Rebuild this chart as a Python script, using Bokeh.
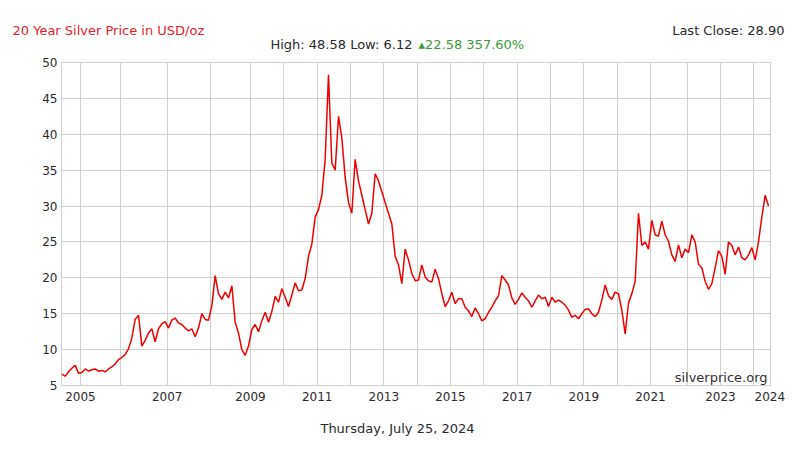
import numpy as np
from bokeh.plotting import figure
from bokeh.layouts import column
from bokeh.models import Range1d, FixedTicker, Label
from bokeh.embed import file_html
from bokeh.resources import INLINE

# Silver price samples (USD/oz), grouped by calendar year
y2004 = [6.6, 6.3, 6.9, 7.4, 7.8, 6.7]
y2005 = [6.8, 7.3, 7.0, 7.2, 7.3, 7.0, 7.1, 6.9, 7.3, 7.6, 8.0, 8.6]
y2006 = [8.9, 9.3, 10.1, 11.6, 14.2, 14.8, 10.5, 11.3, 12.3, 12.9, 11.1, 12.9, 13.6, 13.9]
y2007 = [13.0, 14.1, 14.4, 13.7, 13.5, 13.0, 12.6, 12.9, 11.8, 13.0, 15.0, 14.2, 14.1]
y2008 = [16.1, 20.3, 17.8, 17.0, 18.0, 17.2, 18.9, 13.8, 12.3, 10.0, 9.2, 10.5]
y2009 = [12.8, 13.5, 12.5, 14.0, 15.2, 13.8, 15.3, 17.4, 16.6, 18.5]
y2010 = [17.3, 16.0, 17.6, 19.3, 18.2, 18.3, 19.9, 23.0, 24.7, 28.5]
y2011 = [29.5, 31.5, 36.5, 48.3, 36.0, 35.0, 42.5, 39.5, 34.0, 30.5]
y2012 = [29.0, 36.5, 33.5, 31.5, 29.5, 27.5, 29.0, 34.5, 33.5, 32.0]
y2013 = [30.5, 29.0, 27.5, 23.0, 21.8, 19.2, 24.0, 22.5, 20.6, 19.6]
y2014 = [19.7, 21.8, 20.1, 19.6, 19.4, 21.2, 19.9, 17.8, 16.0, 16.8]
y2015 = [18.0, 16.4, 17.1, 17.1, 15.9, 15.4, 14.6, 15.8, 15.0, 14.0]
y2016 = [14.3, 15.2, 15.9, 16.8, 17.5, 20.3, 19.7, 19.0, 17.2, 16.3]
y2017 = [17.0, 17.9, 17.3, 16.8, 15.9, 16.8, 17.6, 17.1, 17.3, 16.0]
y2018 = [17.3, 16.6, 16.9, 16.6, 16.2, 15.5, 14.5, 14.8, 14.3, 15.0]
y2019 = [15.6, 15.7, 15.0, 14.6, 15.2, 16.9, 19.0, 17.5, 17.0, 18.0]
y2020 = [17.8, 15.5, 12.2, 16.5, 17.8, 19.5, 29.0, 24.5, 25.0, 24.0]
y2021 = [28.0, 26.0, 25.8, 27.9, 26.0, 25.1, 23.2, 22.3, 24.6, 22.8, 24.0]
y2022 = [23.5, 26.0, 25.0, 21.9, 21.4, 19.5, 18.4, 19.2, 21.4, 23.8]
y2023 = [23.0, 20.5, 25.0, 24.5, 23.2, 24.3, 22.8, 22.5, 23.2, 24.2]
y2024 = [22.5, 25.0, 28.5, 31.5, 30.0]

years = list(range(2004, 2025))
by_year = [y2004, y2005, y2006, y2007, y2008, y2009, y2010, y2011, y2012, y2013,
           y2014, y2015, y2016, y2017, y2018, y2019, y2020, y2021, y2022, y2023, y2024]
y_ticks = [5, 10, 15, 20, 25, 30, 35, 40, 45, 50]

title_text = "20 Year Silver Price in USD/oz"
stats_text = "High: 48.58 Low: 6.12"
change_text = "\u25b422.58 357.60%"
last_text = "Last Close: 28.90"
date_text = "Thursday, July 25, 2024"
brand_text = "silverprice.org"
end_year_text = "2024"

# sample index is the horizontal coordinate (one step per sample)
price = []
first_idx = []
for ys in by_year:
    first_idx.append(len(price))
    price.extend(ys)
idx = np.arange(len(price))

year_pos = [first_idx[k] - 0.4 for k in range(1, len(years))]
label_years = years[1:]
x_end = len(price) - 1 + 0.6
end_tick = x_end - 0.2
label_pos = [q for q, yy in zip(year_pos, label_years) if yy % 2 == 1 and yy != 2024] + [end_tick]
overrides = {q: str(yy) for q, yy in zip(year_pos, label_years) if yy % 2 == 1 and yy != 2024}
overrides[end_tick] = end_year_text

FONT = "DejaVu Sans"
DARK = "#2b2b2b"
GRID = "#d0d0d0"
W = 790
H_HEAD, H_MAIN, H_FOOT = 54, 356, 36


def strip(h):
    f = figure(width=W, height=h, output_backend="svg", toolbar_location=None,
               x_range=Range1d(0, W), y_range=Range1d(0, h),
               x_axis_location=None, y_axis_location=None,
               min_border=0, min_border_left=0, min_border_right=0,
               min_border_top=0, min_border_bottom=0)
    f.frame_align = False
    f.grid.visible = False
    f.outline_line_color = None
    f.background_fill_color = "white"
    f.border_fill_color = "white"
    return f


def lab(fig, x, y, text, size="13px", color=DARK, align="left", style="normal", units="data"):
    fig.add_layout(Label(x=x, y=y, x_units=units, y_units=units, text=text,
                         text_font=FONT, text_font_size=size, text_color=color,
                         text_align=align, text_baseline="middle", text_font_style=style))


# header strip (page y 0..54)
hdr = strip(H_HEAD)
lab(hdr, 12, H_HEAD - 30, title_text, color="#e8202a")
lab(hdr, 784, H_HEAD - 30, last_text, align="right")
lab(hdr, 412, H_HEAD - 44, stats_text, align="right")
lab(hdr, 418, H_HEAD - 44, change_text, color="#3a9a3a")

# main chart (page y 54..410), frame at x 61..770, y 62..385
p = figure(width=W, height=H_MAIN, output_backend="svg", toolbar_location=None,
           x_range=Range1d(-0.1, x_end), y_range=Range1d(5, 50),
           min_border_left=61, min_border_right=W - 770, min_border_top=8, min_border_bottom=25)
p.frame_align = False
p.background_fill_color = "white"
p.border_fill_color = "white"
p.outline_line_color = GRID

p.line(idx, price, line_color="#f00000", line_width=1.5)

p.xaxis.ticker = FixedTicker(ticks=label_pos)
p.xaxis.major_label_overrides = overrides
p.xgrid.ticker = FixedTicker(ticks=year_pos)
p.yaxis.ticker = FixedTicker(ticks=y_ticks)
p.ygrid.ticker = FixedTicker(ticks=y_ticks)
for g in (p.xgrid, p.ygrid):
    g.grid_line_color = GRID
    g.grid_line_width = 1
for ax in (p.xaxis, p.yaxis):
    ax.axis_line_color = GRID
    ax.major_tick_line_color = None
    ax.minor_tick_line_color = None
    ax.major_tick_out = 0
    ax.major_tick_in = 0
    ax.major_label_text_font = FONT
    ax.major_label_text_font_size = "12px"
    ax.major_label_text_color = DARK
p.xaxis.major_label_standoff = 6
p.yaxis.major_label_standoff = 4

lab(p, 706, 8, brand_text, align="right", color="#333333", units="screen")

# footer strip (page y 410..446)
ftr = strip(H_FOOT)
lab(ftr, 397, H_FOOT - 18, date_text, align="center")

layout = column(hdr, p, ftr, spacing=0)
open("out.html", "w").write(file_html(layout, INLINE))
